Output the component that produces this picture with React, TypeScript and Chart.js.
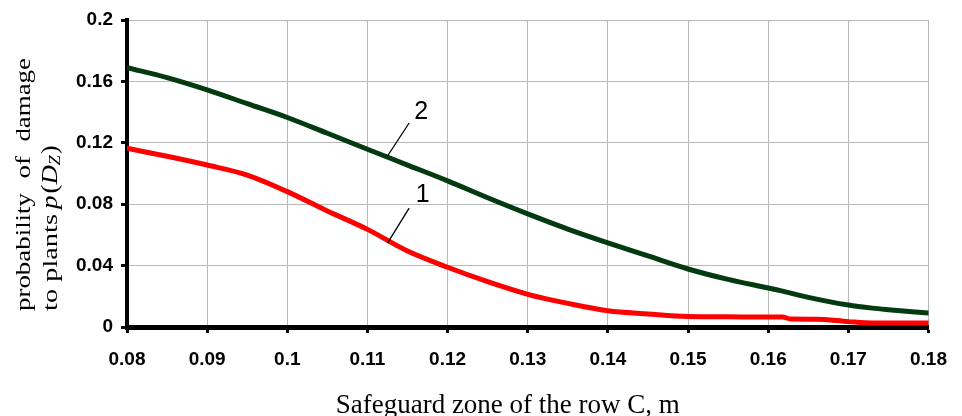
import React, { useEffect, useRef } from 'react';
import { Chart, registerables } from 'chart.js';

Chart.register(...registerables);

// ---- data ----
const X_TICKS = [0.08, 0.09, 0.1, 0.11, 0.12, 0.13, 0.14, 0.15, 0.16, 0.17, 0.18];
const Y_TICKS = [0, 0.04, 0.08, 0.12, 0.16, 0.2];

const CURVE2_X = [0.08, 0.085, 0.09, 0.095, 0.1, 0.105, 0.11, 0.115, 0.12, 0.125, 0.13, 0.135, 0.14, 0.145, 0.15, 0.155, 0.16, 0.1615, 0.165, 0.17, 0.173, 0.175, 0.18];
const CURVE2_Y = [0.169, 0.1625, 0.1545, 0.1455, 0.1365, 0.1262, 0.1158, 0.1055, 0.0952, 0.0842, 0.0737, 0.0638, 0.0548, 0.0463, 0.0378, 0.031, 0.0254, 0.0237, 0.0193, 0.0143, 0.0123, 0.0113, 0.0091];

const CURVE1_X = [0.08, 0.085, 0.09, 0.095, 0.1, 0.105, 0.11, 0.115, 0.12, 0.125, 0.13, 0.135, 0.14, 0.145, 0.15, 0.155, 0.16, 0.1618, 0.1628, 0.166, 0.17, 0.173, 0.18];
const CURVE1_Y = [0.1164, 0.1112, 0.1055, 0.099, 0.0882, 0.0756, 0.0636, 0.0495, 0.0389, 0.0295, 0.0213, 0.0154, 0.0106, 0.0085, 0.0068, 0.0066, 0.0065, 0.0065, 0.0052, 0.0051, 0.0035, 0.0026, 0.0026];

const SERIES_NAMES = ['1', '2'];
const X_TITLE = 'Safeguard zone of the row C, m';
const Y_TITLE_WORDS = ['probability', 'of', 'damage'];
const Y_TITLE_LINE2 = 'to plants';

// curve label callouts (data coordinates): text anchor and leader line
const CALLOUTS = [
  { text: SERIES_NAMES[1], tx: 0.1167, ty: 0.1401, x1: 0.1152, y1: 0.1329, x2: 0.1125, y2: 0.1114 },
  { text: SERIES_NAMES[0], tx: 0.1169, ty: 0.0862, x1: 0.1152, y1: 0.0775, x2: 0.1125, y2: 0.0547 },
];

const SANS = '"Liberation Sans", Arial, sans-serif';
const SERIF = '"Liberation Serif", "Times New Roman", serif';

const pts = (xs: number[], ys: number[]) => xs.map((x, i) => ({ x, y: ys[i] }));

// draw text stretched horizontally (in current frame) to a target length
const drawFit = (ctx: CanvasRenderingContext2D, text: string, font: string, x0: number, len: number, dy = 0) => {
  ctx.font = font;
  const w = ctx.measureText(text).width;
  ctx.save();
  ctx.translate(x0, dy);
  ctx.scale(len / w, 1);
  ctx.textAlign = 'left';
  ctx.fillText(text, 0, 0);
  ctx.restore();
};

const decorPlugin = {
  id: 'decor',
  afterDraw(chart: any) {
    const ctx: CanvasRenderingContext2D = chart.ctx;
    const xs = chart.scales.x;
    const ys = chart.scales.y;
    const area = chart.chartArea;

    // callouts
    ctx.save();
    CALLOUTS.forEach((c) => {
      ctx.strokeStyle = '#000';
      ctx.lineWidth = 1.3;
      ctx.beginPath();
      ctx.moveTo(xs.getPixelForValue(c.x1), ys.getPixelForValue(c.y1));
      ctx.lineTo(xs.getPixelForValue(c.x2), ys.getPixelForValue(c.y2));
      ctx.stroke();
      ctx.fillStyle = '#000';
      ctx.font = '25px ' + SANS;
      ctx.textAlign = 'center';
      ctx.textBaseline = 'middle';
      ctx.fillText(c.text, xs.getPixelForValue(c.tx), ys.getPixelForValue(c.ty));
    });
    ctx.restore();

    // x title
    ctx.save();
    ctx.fillStyle = '#000';
    ctx.font = '27px ' + SERIF;
    ctx.textAlign = 'center';
    ctx.textBaseline = 'alphabetic';
    ctx.fillText(X_TITLE, (area.left + area.right) / 2 - 20, area.bottom + 86);
    ctx.restore();

    // y title (rotated, two lines)
    const bottom = area.bottom - 16;
    const total = bottom - (area.top + 38);
    const f = '22px ' + SERIF;
    const pLen = 118;
    ctx.save();
    ctx.fillStyle = '#000';
    ctx.translate(24, bottom);
    ctx.rotate(-Math.PI / 2);
    ctx.textBaseline = 'middle';
    ctx.font = f;
    const k = pLen / ctx.measureText(Y_TITLE_WORDS[0]).width;
    const wOf = ctx.measureText(Y_TITLE_WORDS[1]).width * k;
    const wDam = ctx.measureText(Y_TITLE_WORDS[2]).width * k;
    drawFit(ctx, Y_TITLE_WORDS[0], f, 0, pLen);
    drawFit(ctx, Y_TITLE_WORDS[2], f, total - wDam, wDam);
    drawFit(ctx, Y_TITLE_WORDS[1], f, (pLen + total - wDam) / 2 - wOf / 2, wOf);
    ctx.restore();

    ctx.save();
    ctx.fillStyle = '#000';
    ctx.translate(51, bottom);
    ctx.rotate(-Math.PI / 2);
    ctx.textBaseline = 'middle';
    drawFit(ctx, Y_TITLE_LINE2, f, 0, 97);
    let x = 102;
    const seg = (t: string, font: string, dy = 0, sx = 1.12) => {
      ctx.font = font;
      const w = ctx.measureText(t).width * sx;
      drawFit(ctx, t, font, x, w, dy);
      x += w;
    };
    seg('p', 'italic 24px ' + SERIF);
    x += 2;
    seg('(', '24px ' + SERIF);
    seg('D', 'italic 24px ' + SERIF);
    seg('Z', 'italic 16px ' + SERIF, 5);
    x += 1;
    seg(')', '24px ' + SERIF);
    ctx.restore();
  },
};

export default function App() {
  const ref = useRef<HTMLCanvasElement | null>(null);

  useEffect(() => {
    if (!ref.current) return;
    const chart = new Chart(ref.current, {
      type: 'line',
      data: {
        datasets: [
          {
            label: SERIES_NAMES[0],
            data: pts(CURVE1_X, CURVE1_Y),
            borderColor: '#ff0000',
            backgroundColor: '#ff0000',
            borderWidth: 5,
            pointRadius: 0,
            cubicInterpolationMode: 'monotone',
            borderCapStyle: 'round',
          },
          {
            label: SERIES_NAMES[1],
            data: pts(CURVE2_X, CURVE2_Y),
            borderColor: '#033a10',
            backgroundColor: '#033a10',
            borderWidth: 5,
            pointRadius: 0,
            cubicInterpolationMode: 'monotone',
            borderCapStyle: 'round',
          },
        ],
      },
      options: {
        responsive: false,
        animation: false,
        events: [],
        layout: { padding: { top: 20, right: 22, left: 0, bottom: 0 } },
        plugins: { legend: { display: false }, tooltip: { enabled: false }, title: { display: false } },
        scales: {
          x: {
            type: 'linear',
            min: 0.08,
            max: 0.18,
            afterBuildTicks: (s: any) => { s.ticks = X_TICKS.map((v) => ({ value: v })); },
            afterFit: (s: any) => { s.height = 89; },
            grid: { color: '#b8b8b8', lineWidth: 1, drawTicks: true, tickLength: 6, tickColor: '#000', tickWidth: 3 },
            border: { display: true, color: '#000', width: 5 },
            ticks: {
              padding: 15,
              maxRotation: 0,
              autoSkip: false,
              color: '#000',
              font: { family: SANS, size: 19, weight: 'bold' },
              callback: (v: any) => String(Number(Number(v).toFixed(3))),
            },
          },
          y: {
            type: 'linear',
            min: 0,
            max: 0.2,
            afterBuildTicks: (s: any) => { s.ticks = Y_TICKS.map((v) => ({ value: v })); },
            afterFit: (s: any) => { s.width = 127; },
            grid: { color: '#b8b8b8', lineWidth: 1, drawTicks: true, tickLength: 6, tickColor: '#000', tickWidth: 3 },
            border: { display: true, color: '#000', width: 4 },
            ticks: {
              padding: 8,
              color: '#000',
              font: { family: SANS, size: 19, weight: 'bold' },
              callback: (v: any) => String(Number(Number(v).toFixed(3))),
            },
          },
        },
      },
      plugins: [decorPlugin],
    } as any);
    return () => chart.destroy();
  }, []);

  return (
    <div style={{ position: 'absolute', left: 0, top: 0, width: 962, height: 416, background: '#fff' }}>
      <canvas ref={ref} width={962} height={416} />
    </div>
  );
}
